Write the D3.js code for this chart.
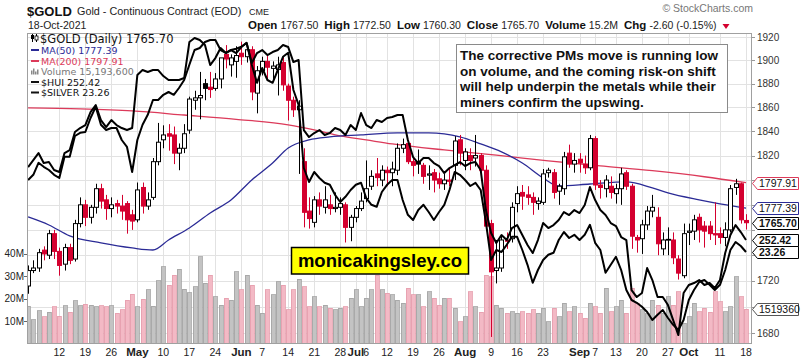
<!DOCTYPE html>
<html><head><meta charset="utf-8">
<script src="https://cdn.jsdelivr.net/npm/d3@7/dist/d3.min.js"></script>
<style>
body{margin:0;background:#fff;}
svg{display:block;font-family:"Liberation Sans",Arial,sans-serif;}
</style></head><body>
<svg id="c" width="803" height="361"></svg>
<script>
const dates = ["04-01","04-05","04-06","04-07","04-08","04-09","04-12","04-13","04-14","04-15","04-16","04-19","04-20","04-21","04-22","04-23","04-26","04-27","04-28","04-29","04-30",
"05-03","05-04","05-05","05-06","05-07","05-10","05-11","05-12","05-13","05-14","05-17","05-18","05-19","05-20","05-21","05-24","05-25","05-26","05-27","05-28",
"06-01","06-02","06-03","06-04","06-07","06-08","06-09","06-10","06-11","06-14","06-15","06-16","06-17","06-18","06-21","06-22","06-23","06-24","06-25","06-28","06-29","06-30",
"07-01","07-02","07-06","07-07","07-08","07-09","07-12","07-13","07-14","07-15","07-16","07-19","07-20","07-21","07-22","07-23","07-26","07-27","07-28","07-29","07-30",
"08-02","08-03","08-04","08-05","08-06","08-09","08-10","08-11","08-12","08-13","08-16","08-17","08-18","08-19","08-20","08-23","08-24","08-25","08-26","08-27","08-30","08-31",
"09-01","09-02","09-03","09-07","09-08","09-09","09-10","09-13","09-14","09-15","09-16","09-17","09-20","09-21","09-22","09-23","09-24","09-27","09-28","09-29","09-30",
"10-01","10-04","10-05","10-06","10-07","10-08","10-11","10-12","10-13","10-14","10-15","10-18"];

const open = [1716,1728,1730,1744,1740,1757,1743,1733,1746,1737,1765,1780,1770,1778,1793,1784,1777,1781,1779,1781,1772,
1768,1794,1779,1786,1815,1833,1838,1837,1822,1826,1841,1866,1868,1880,1877,1876,1884,1905,1896,1899,
1906,1903,1909,1872,1891,1899,1893,1892,1898,1878,1866,1858,1815,1775,1766,1784,1778,1780,1777,1778,1780,1762,
1770,1777,1785,1795,1805,1800,1808,1806,1808,1826,1830,1815,1815,1812,1804,1806,1801,1797,1800,1812,1833,
1816,1820,1818,1820,1808,1765,1728,1730,1752,1753,1781,1790,1788,1786,1781,1782,1806,1806,1791,1793,1822,1813,
1817,1813,1810,1834,1796,1793,1795,1789,1793,1806,1795,1754,1753,1764,1775,1770,1745,1752,1752,1737,1724,
1758,1759,1770,1763,1763,1757,1757,1754,1760,1794,1797,1767.5];
const high = [1732,1736,1745,1747,1760,1760,1746,1749,1749,1768,1786,1784,1780,1797,1797,1788,1786,1784,1788,1783,1776,
1798,1798,1790,1818,1847,1845,1846,1844,1830,1846,1869,1874,1890,1884,1890,1889,1900,1913,1905,1912,
1916,1912,1912,1895,1903,1905,1899,1903,1903,1880,1869,1866,1826,1786,1787,1790,1795,1788,1790,1786,1782,1772,
1779,1790,1816,1808,1818,1812,1811,1815,1830,1834,1833,1818,1825,1814,1812,1809,1806,1805,1810,1836,1837,
1826,1826,1837,1822,1812,1768,1752,1755,1758,1782,1795,1796,1795,1790,1786,1809,1810,1809,1797,1823,1829,1822,
1822,1820,1837,1836,1800,1804,1803,1797,1810,1808,1797,1756,1768,1779,1788,1778,1758,1762,1758,1740,1765,
1765,1772,1773,1767,1767,1782,1762,1766,1796,1801,1798,1772.5];
const low = [1710,1726,1727,1736,1737,1737,1724,1728,1733,1735,1762,1763,1765,1773,1777,1768,1770,1773,1768,1757,1760,
1766,1773,1776,1784,1812,1826,1824,1813,1808,1822,1838,1858,1850,1866,1868,1874,1876,1893,1886,1885,
1896,1898,1866,1855,1887,1884,1884,1870,1874,1849,1852,1805,1762,1761,1762,1772,1773,1772,1774,1772,1750,1751,
1766,1775,1782,1792,1795,1795,1795,1795,1804,1822,1813,1803,1805,1797,1792,1790,1793,1792,1795,1800,1812,
1808,1808,1811,1800,1759,1677,1718,1727,1745,1750,1774,1776,1780,1772,1776,1780,1802,1785,1780,1788,1810,1806,
1806,1805,1808,1792,1785,1786,1785,1781,1780,1792,1745,1742,1741,1760,1770,1740,1740,1740,1733,1721,1722,
1748,1752,1750,1746,1752,1748,1749,1747,1758,1788,1765,1760.3];
const close = [1728,1730,1742,1741,1757,1743,1732,1746,1736,1765,1780,1770,1778,1793,1783,1777,1780,1779,1775,1768,1767,
1792,1779,1784,1815,1831,1837,1836,1822,1826,1838,1867,1868,1870,1876,1875,1884,1902,1901,1902,1904,
1903,1909,1873,1891,1899,1894,1895,1896,1879,1866,1858,1861,1774,1769,1784,1779,1784,1777,1778,1781,1762,1770,
1777,1783,1793,1803,1802,1808,1806,1809,1826,1829,1815,1812,1813,1803,1805,1800,1797,1800,1799,1832,1822,
1823,1816,1820,1808,1763,1727,1730,1752,1751,1778,1789,1787,1786,1782,1783,1805,1808,1790,1795,1819,1813,1816,
1814,1810,1834,1796,1794,1800,1790,1793,1805,1795,1755,1752,1764,1775,1778,1749,1752,1752.5,1738,1726,1757,
1759,1768,1760,1759,1757,1756,1754,1760,1793,1797,1768,1765.7];
// volume, millions
const volume = [16.6,10.5,14.6,11.8,14.0,16.4,12.2,16.7,14.0,18.9,16.8,17.5,17.1,16.4,16.8,16.4,16.8,13.4,14.9,19.3,21.9,
16.4,19.6,23.8,16.6,27.8,34.1,26.0,30.4,33.0,24.1,22.6,25.2,38.6,26.7,30.4,20.8,17.1,20.1,19.3,31.9,
23.8,30.4,26.0,17.1,13.4,23.8,21.6,27.5,26.0,14.9,23.8,28.5,25.2,16.4,20.8,16.4,17.1,15.6,14.9,15.6,16.4,20.1,
23.8,16.4,20.1,23.8,30.4,23.8,22.3,21.6,19.3,17.8,24.5,21.6,21.6,16.4,23.0,20.1,17.1,20.1,20.1,15.6,9.6,
12.0,23.0,16.4,14.0,30.4,29.6,17.1,15.6,13.4,14.1,13.4,14.1,13.4,14.9,13.4,15.6,9.6,15.6,11.9,17.8,14.1,16.4,
13.4,11.2,17.8,16.4,13.4,24.5,14.1,16.4,19.3,13.4,24.5,17.8,14.9,13.4,19.3,17.1,13.4,20.8,17.1,23.0,8.9,
11.9,17.8,14.1,15.6,14.0,23.0,18.5,14.1,16.4,29.6,20.8,15.19];
const hui = [281.6,284.4,287.2,283.2,283.6,280.4,279.6,287.2,288.4,295.6,297.2,298.4,303.6,306.4,300.4,297.6,300.4,298.4,297.2,296.4,297.2,
318.4,320.4,319.6,320.4,320.4,318.0,316.4,316.4,316.4,317.2,331.6,333.2,332.4,330.4,322.4,325.2,329.2,327.2,328.4,327.2,
329.6,331.2,323.2,327.2,328.4,326.4,327.6,328.4,330.4,329.6,323.6,324.4,296.4,293.6,295.2,296.4,294.4,295.2,297.2,296.4,294.4,298.4,
296.4,303.2,298.4,297.2,300.4,299.6,301.2,301.6,302.4,302.4,292.4,285.6,283.2,285.2,285.2,283.2,282.0,279.2,281.2,282.4,283.6,
282.0,283.2,283.6,280.4,264.4,255.2,251.2,254.4,252.4,257.2,258.4,254.4,250.4,247.2,252.4,259.2,257.2,258.4,260.4,263.6,262.4,264.4,
263.2,266.4,273.6,268.4,264.4,262.4,259.2,258.0,253.6,252.4,232.4,229.6,231.2,241.2,236.4,229.6,229.6,226.4,220.4,214.4,231.2,
234.4,235.2,236.4,234.4,235.2,233.2,236.4,247.2,254.4,258.4,255.6,252.42];
const silver = [25.06,25.19,25.49,25.39,25.31,25.19,25.11,25.64,25.64,26.16,26.24,26.26,26.61,26.89,26.44,26.31,26.36,26.36,26.06,25.89,25.26,
26.06,26.44,26.69,27.06,27.06,27.19,27.26,27.19,27.36,27.56,27.94,28.31,28.36,28.51,28.56,28.56,28.31,28.24,28.31,28.34,
28.39,28.49,27.94,27.49,27.86,27.56,27.49,27.81,28.14,28.24,27.31,26.94,25.36,25.01,25.26,25.11,24.99,24.94,24.69,24.51,24.64,24.81,
24.94,24.99,24.61,24.44,24.39,24.76,24.94,25.06,25.06,24.56,24.19,24.06,24.31,24.44,24.26,24.06,24.26,24.44,24.81,25.26,25.19,
25.06,24.91,24.99,24.81,24.01,23.06,23.31,23.26,23.44,23.64,23.64,23.31,22.94,22.49,22.81,23.06,23.19,23.24,23.56,23.76,23.61,23.69,
23.56,23.69,23.94,23.49,23.31,22.74,22.94,23.14,22.81,22.31,22.06,21.99,21.89,21.76,21.56,21.69,21.81,21.61,21.44,21.31,21.56,
22.06,22.31,22.51,22.56,22.44,22.31,22.44,22.81,23.31,23.51,23.41,23.26];
const ma50Dates = ["04-01","04-08","04-14","04-22","04-30","05-06","05-11","05-17","05-21","05-27","06-03","06-09","06-14","06-18","06-24","07-02","07-14","07-22","07-30","08-05","08-11","08-17","08-23","08-26","09-03","09-15","09-22","09-27","10-05","10-11","10-18"];
const ma50 = [1770.3,1763.9,1755.2,1749.7,1745.7,1744.1,1752.0,1761.5,1773.5,1783.9,1800.1,1813.9,1826.2,1832.9,1835.4,1837.0,1838.7,1838.7,1835.4,1829.6,1823.0,1813.9,1801.7,1795.2,1796.8,1798.5,1793.6,1789.6,1784.0,1780.8,1777.39];
const ma200Dates = ["04-01","04-16","04-30","05-14","05-28","06-14","06-21","06-28","07-06","07-13","07-27","08-10","08-24","09-08","09-22","10-06","10-18"];
const ma200 = [1859.5,1858.7,1857.0,1853.6,1850.0,1845.3,1841.2,1836.2,1832.9,1829.6,1824.6,1820.3,1815.7,1811.6,1807.6,1802.7,1797.91];
const priceTicks = [1680,1700,1720,1740,1760,1780,1800,1820,1840,1860,1880,1900,1920];
const volTicks = [10,20,30,40];
const tickDates = ["04-12","04-19","04-26","05-03","05-10","05-17","05-24","06-01","06-07","06-14","06-21","06-28","07-01","07-06","07-12","07-19","07-26","08-02","08-09","08-16","08-23","09-01","09-07","09-13","09-20","09-27","10-01","10-11","10-18"];
const tickLabels = ["12","19","26","May","10","17","24","Jun","7","14","21","28","Jul","6","12","19","26","Aug","9","16","23","Sep","7","13","20","27","Oct","11","18"];
const headLabels = ["Open","High","Low","Close","Volume","Chg"];
const headValues = ["1767.50","1772.50","1760.30","1765.70","15.2M","-2.60 (-0.15%)"];
const noteLines = ["The corrective PMs move is running low","on volume, and the coming risk-on shift","will help underpin the metals while their","miners confirm the upswing."];

const L=27,R=752,T=33,B=344;
const RED="#d4002f", BLK="#000", MA50C="#2b2b96", MA200C="#dc3a5a";
const svg=d3.select("#c");
svg.append("rect").attr("width",803).attr("height",361).attr("fill","#fff");
const x=d3.scalePoint().domain(dates).range([28.1,746]);
const y=d3.scaleLog().domain([1680,1920]).range([333,37]);
const yv=d3.scaleLinear().domain([0,40]).range([343.5,253.5]);
const yHui=d3.scaleLinear().domain([212.42,332.42]).range([340,40]);
const ySil=d3.scaleLinear().domain([21.06,28.56]).range([340,40]);
const n=dates.length;
const idx=d3.range(n);

svg.append("defs").append("clipPath").attr("id","clip").append("rect").attr("x",L).attr("y",T).attr("width",R-L).attr("height",B-T);
const plot=svg.append("g").attr("clip-path","url(#clip)");
// grid
plot.selectAll(".hg").data(priceTicks).join("line").attr("x1",L).attr("x2",R)
  .attr("y1",d=>Math.round(y(d))+0.5).attr("y2",d=>Math.round(y(d))+0.5).attr("stroke","#e2e2e2");
plot.selectAll(".vg").data(tickDates).join("line").attr("y1",T).attr("y2",B)
  .attr("x1",d=>Math.round(x(d))+0.5).attr("x2",d=>Math.round(x(d))+0.5).attr("stroke","#e2e2e2");
// volume
const up=i=> i===0 ? true : close[i]>=close[i-1];
plot.selectAll(".vb").data(idx).join("rect")
  .attr("x",i=>Math.round(x(dates[i]))-2).attr("width",4)
  .attr("y",i=>yv(volume[i])).attr("height",i=>yv(0)-yv(volume[i]))
  .attr("fill",i=>up(i)?"#c3c3c3":"#f3b9c5").attr("stroke",i=>up(i)?"#a2a2a2":"#e59cab").attr("stroke-width",0.8)
  .attr("shape-rendering","crispEdges");
// moving averages
const curve=d3.curveMonotoneX;
plot.append("path").datum(ma200Dates.map((d,k)=>[x(d),y(ma200[k])]))
  .attr("d",d3.line().curve(curve)).attr("fill","none").attr("stroke",MA200C).attr("stroke-width",1.3);
plot.append("path").datum(ma50Dates.map((d,k)=>[x(d),y(ma50[k])]))
  .attr("d",d3.line().curve(curve)).attr("fill","none").attr("stroke",MA50C).attr("stroke-width",1.3);
// candles
const col=i=> (i>0 && close[i]<close[i-1]) ? RED : BLK;
const cg=plot.selectAll(".cd").data(idx).join("g");
cg.append("line").attr("x1",i=>Math.round(x(dates[i]))+0.5).attr("x2",i=>Math.round(x(dates[i]))+0.5)
  .attr("y1",i=>y(high[i])).attr("y2",i=>y(low[i])).attr("stroke",col).attr("stroke-width",1);
cg.append("rect").attr("x",i=>Math.round(x(dates[i]))-1.5).attr("width",4)
  .attr("y",i=>y(Math.max(open[i],close[i])))
  .attr("height",i=>Math.max(0.8,Math.abs(y(open[i])-y(close[i]))))
  .attr("fill",i=> close[i]<open[i]?col(i):"#fff").attr("stroke",col).attr("stroke-width",1);
// overlays
const ln=d3.line().curve(d3.curveLinear);
plot.append("path").datum(idx.map(i=>[x(dates[i]),ySil(silver[i])])).attr("d",ln)
  .attr("fill","none").attr("stroke","#000").attr("stroke-width",2).attr("stroke-linejoin","round");
plot.append("path").datum(idx.map(i=>[x(dates[i]),yHui(hui[i])])).attr("d",ln)
  .attr("fill","none").attr("stroke","#000").attr("stroke-width",2).attr("stroke-linejoin","round");
// frame
svg.append("rect").attr("x",L+0.5).attr("y",T+0.5).attr("width",R-L-1).attr("height",B-T-1)
  .attr("fill","none").attr("stroke","#a0a0a0");

// value tags
const tags=[
 {yy:y(ma200[ma200.length-1]),c:MA200C,b:false,t:"1797.91"},
 {yy:y(ma50[ma50.length-1]),c:MA50C,b:false,t:"1777.39"},
 {yy:y(close[n-1]),c:"#000",b:true,t:"1765.70"},
 {yy:yHui(hui[n-1]),c:"#000",b:true,t:"252.42"},
 {yy:ySil(silver[n-1]),c:"#000",b:true,t:"23.26"},
 {yy:yv(volume[n-1]),c:"#555",b:false,t:"1519360"}];
// right axis (labels hidden where a value tag covers them)
const freeTicks=priceTicks.filter(p=>tags.every(t=>Math.abs(t.yy-y(p))>11));
svg.selectAll(".ra").data(freeTicks).join("text").attr("x",757).attr("y",d=>y(d)+3.5)
  .attr("font-size",10).attr("fill","#333").text(d=>d);
svg.selectAll(".rt").data(priceTicks).join("line").attr("x1",752).attr("x2",755)
  .attr("y1",d=>Math.round(y(d))+0.5).attr("y2",d=>Math.round(y(d))+0.5).attr("stroke","#999");
const tg=svg.selectAll(".tag").data(tags).join("g");
tg.append("path").attr("d",d=>{const a=Math.round(d.yy)+0.5;return `M752.5,${a} L757.5,${a-6} L798.5,${a-6} L798.5,${a+6} L757.5,${a+6} Z`;})
  .attr("fill","#fff").attr("stroke",d=>d.c).attr("stroke-width",1);
tg.append("text").attr("x",759).attr("y",d=>Math.round(d.yy)+4).attr("font-size",10.5)
  .attr("font-weight",d=>d.b?"bold":"normal").attr("fill","#111").text(d=>d.t);
// left volume axis
svg.selectAll(".va").data(volTicks).join("text").attr("x",24).attr("y",d=>yv(d*1)+3.5)
  .attr("text-anchor","end").attr("font-size",10).attr("fill","#222").text(d=>d+"M");
svg.selectAll(".vt").data(volTicks).join("line").attr("x1",24).attr("x2",27)
  .attr("y1",d=>Math.round(yv(d))+0.5).attr("y2",d=>Math.round(yv(d))+0.5).attr("stroke","#666");
// x axis
svg.selectAll(".xa").data(tickDates).join("text").attr("x",d=>x(d)).attr("y",356)
  .attr("text-anchor","middle")
  .attr("font-size",(d,k)=>isNaN(+tickLabels[k])?11.5:10.5)
  .attr("font-weight",(d,k)=>isNaN(+tickLabels[k])?"bold":"normal")
  .attr("fill","#222").text((d,k)=>tickLabels[k]);

// header
svg.append("text").attr("x",27).attr("y",15.5).attr("font-size",13).attr("font-weight","bold").attr("fill","#111").text("$GOLD");
svg.append("text").attr("x",77).attr("y",15).attr("font-size",10.8).attr("fill","#222").text("Gold - Continuous Contract (EOD)");
svg.append("text").attr("x",249).attr("y",15).attr("font-size",9).attr("fill","#222").text("CME");
svg.append("text").attr("x",28).attr("y",29).attr("font-size",10.5).attr("fill","#222").text("18-Oct-2021");
svg.append("text").attr("x",753).attr("y",12).attr("text-anchor","end").attr("font-size",10.5).attr("fill","#777").text("\u00A9 StockCharts.com");
let hx=248;
headLabels.forEach((lab,k)=>{
  const t1=svg.append("text").attr("x",hx).attr("y",29).attr("font-size",11.5).attr("font-weight","bold").attr("fill","#111").text(lab);
  hx+=t1.node().getComputedTextLength()+3;
  const t2=svg.append("text").attr("x",hx).attr("y",29).attr("font-size",10.5).attr("fill","#222").text(headValues[k]);
  hx+=t2.node().getComputedTextLength()+6;
});
svg.append("path").attr("d",`M${hx},24 L${hx+7},24 L${hx+3.5},29 Z`).attr("fill",RED);

// legend
const lg=svg.append("g").attr("font-family","'DejaVu Sans',Verdana,sans-serif");
lg.append("line").attr("x1",32.5).attr("x2",32.5).attr("y1",34).attr("y2",42).attr("stroke","#000");
lg.append("rect").attr("x",31).attr("y",35).attr("width",3).attr("height",4).attr("fill","#000");
lg.append("line").attr("x1",36.5).attr("x2",36.5).attr("y1",34).attr("y2",42).attr("stroke","#000");
lg.append("rect").attr("x",35).attr("y",36).attr("width",3).attr("height",4).attr("fill","#fff").attr("stroke","#000").attr("stroke-width",0.8);
lg.append("text").attr("x",40).attr("y",42.5).attr("font-size",11.5).attr("fill","#111").text("$GOLD (Daily) 1765.70");
const legRows=[
 {t:"MA(50) 1777.39",c:MA50C,yy:50},
 {t:"MA(200) 1797.91",c:MA200C,yy:61},
 {t:"Volume 15,193,600",c:"#777",yy:71.5,vol:true},
 {t:"$HUI 252.42",c:"#111",yy:82},
 {t:"$SILVER 23.26",c:"#111",yy:92.5}];
legRows.forEach(r=>{
  if(r.vol){
    [[31,4],[33,6],[35,3],[37,5]].forEach(([bx,h])=>lg.append("rect").attr("x",bx).attr("y",r.yy+3-h).attr("width",1.5).attr("height",h).attr("fill","#888"));
  } else {
    lg.append("line").attr("x1",31).attr("x2",39).attr("y1",r.yy).attr("y2",r.yy).attr("stroke",r.c).attr("stroke-width",2);
  }
  lg.append("text").attr("x",41).attr("y",r.yy+3.5).attr("font-size",9.5).attr("fill",r.c).text(r.t);
});

// annotation box
svg.append("rect").attr("x",456.5).attr("y",44.5).attr("width",271).attr("height",68).attr("fill","#fff").attr("stroke","#8a8a8a");
svg.selectAll(".nl").data(noteLines).join("text").attr("x",460).attr("y",(d,k)=>60+k*15.5)
  .attr("font-size",13.5).attr("font-weight","bold").attr("fill","#111").text(d=>d);
// watermark box
svg.append("rect").attr("x",291.5).attr("y",247.5).attr("width",177).attr("height",26.5).attr("fill","#ffff00").attr("stroke","#000").attr("stroke-width",1.5);
svg.append("text").attr("x",380).attr("y",267).attr("text-anchor","middle").attr("font-size",18.5).attr("font-weight","bold").attr("fill","#000").text("monicakingsley.co");
</script>
</body></html>
